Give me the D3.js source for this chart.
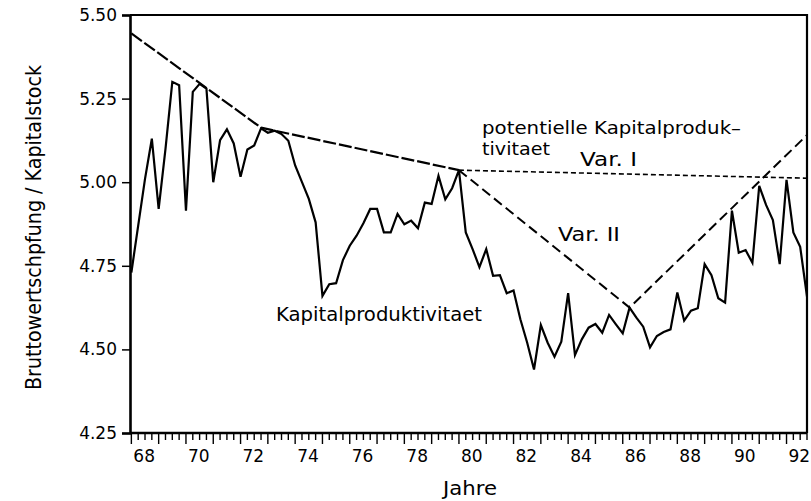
<!DOCTYPE html>
<html>
<head>
<script src="https://d3js.org/d3.v7.min.js"></script>
<style>
  body { margin: 0; background: #fff; }
  text { font-family: "DejaVu Sans", Arial, sans-serif; fill: #000; }
</style>
</head>
<body>
<svg id="chart" width="811" height="501"></svg>
<script>
// quarterly values from 1968 Q1
var startYear = 68;
var kapProd = [4.73, 4.87, 5.01, 5.13, 4.92, 5.10, 5.30, 5.29, 4.915, 5.27,
  5.294, 5.28, 5.00, 5.126, 5.158, 5.116, 5.016, 5.098, 5.11, 5.161,
  5.148, 5.154, 5.144, 5.124, 5.05, 5.00, 4.95, 4.88, 4.66, 4.695,
  4.698, 4.767, 4.81, 4.84, 4.877, 4.92, 4.92, 4.85, 4.85, 4.905,
  4.874, 4.885, 4.862, 4.939, 4.935, 5.019, 4.949, 4.982, 5.036, 4.85,
  4.80, 4.746, 4.80, 4.72, 4.722, 4.668, 4.676, 4.59, 4.52, 4.44,
  4.573, 4.52, 4.478, 4.523, 4.668, 4.483, 4.53, 4.565, 4.576, 4.55,
  4.603, 4.575, 4.548, 4.625, 4.595, 4.568, 4.506, 4.54, 4.552, 4.56,
  4.67, 4.586, 4.616, 4.623, 4.755, 4.722, 4.653, 4.64, 4.915, 4.789,
  4.797, 4.759, 4.989, 4.932, 4.887, 4.755, 5.007, 4.85, 4.807, 4.658];

// potential capital productivity (trend lines)
var trendYears = [68, 72.75, 80];
var trendValues = [5.445, 5.163, 5.036];
var var1Years = [80, 92.75];
var var1Values = [5.036, 5.012];
var var2Years = [80, 86.25, 92.75];
var var2Values = [5.036, 4.625, 5.141];

var yTicks = [4.25, 4.50, 4.75, 5.00, 5.25, 5.50];
var xLabels = ["68", "70", "72", "74", "76", "78", "80", "82", "84", "86", "88", "90", "92"];

var svg = d3.select("#chart");
var pLeft = 130, pRight = 807, pTop = 15, pBottom = 433;

var x = d3.scaleLinear().domain([67.95, 92.75]).range([pLeft, pRight]);
var y = d3.scaleLinear().domain([4.25, 5.50]).range([pBottom, pTop]);

// frame
svg.append("path")
  .attr("d", "M" + pLeft + "," + pTop + "H" + pRight + "V" + pBottom)
  .attr("fill", "none").attr("stroke", "#000").attr("stroke-width", 2.2);

// y axis
var yAxis = d3.axisLeft(y).tickValues(yTicks).tickSize(8).tickPadding(5)
  .tickFormat(d3.format(".2f"));
var gy = svg.append("g").attr("transform", "translate(" + pLeft + ",0)").call(yAxis);
gy.select(".domain").attr("stroke-width", 2.6);
gy.selectAll(".tick line").attr("stroke-width", 1.5);
gy.selectAll("text").attr("font-size", 17).style("font-family", "DejaVu Sans");

// x axis: quarterly minor ticks, yearly major ticks
var quarters = d3.range(68, 92.76, 0.25);
var gx = svg.append("g").attr("transform", "translate(0," + pBottom + ")");
gx.append("line").attr("x1", pLeft).attr("x2", pRight).attr("y1", 0).attr("y2", 0)
  .attr("stroke", "#000").attr("stroke-width", 2.6);
gx.selectAll("line.tk").data(quarters).enter().append("line")
  .attr("class", "tk")
  .attr("x1", function(d) { return x(d); })
  .attr("x2", function(d) { return x(d); })
  .attr("y1", 0)
  .attr("y2", function(d) { return Math.abs(d - Math.round(d)) < 1e-6 ? 11 : 7; })
  .attr("stroke", "#000").attr("stroke-width", 1.4);
gx.selectAll("text").data(xLabels).enter().append("text")
  .attr("x", function(d) { return x(+d) + 2; })
  .attr("y", 29)
  .attr("font-size", 17)
  .text(function(d) { return d; });

// lines
var kapYears = kapProd.map(function(v, i) { return startYear + i / 4; });
var line = d3.line()
  .x(function(d) { return x(d[0]); })
  .y(function(d) { return y(d[1]); });

svg.append("path")
  .datum(d3.zip(kapYears, kapProd))
  .attr("d", line)
  .attr("fill", "none").attr("stroke", "#000").attr("stroke-width", 2.2)
  .attr("stroke-linejoin", "miter");

svg.append("path")
  .datum(d3.zip(trendYears, trendValues))
  .attr("d", line)
  .attr("fill", "none").attr("stroke", "#000").attr("stroke-width", 2.2)
  .attr("stroke-dasharray", "13,3");

svg.append("path")
  .datum(d3.zip(var1Years, var1Values))
  .attr("d", line)
  .attr("fill", "none").attr("stroke", "#000").attr("stroke-width", 1.6)
  .attr("stroke-dasharray", "5,3");

svg.append("path")
  .datum(d3.zip(var2Years, var2Values))
  .attr("d", line)
  .attr("fill", "none").attr("stroke", "#000").attr("stroke-width", 2)
  .attr("stroke-dasharray", "10,5");

// annotations
function label(txt, px, py, len, size) {
  svg.append("text").attr("x", px).attr("y", py)
    .attr("font-size", size)
    .attr("textLength", len).attr("lengthAdjust", "spacingAndGlyphs")
    .text(txt);
}
label("potentielle Kapitalproduk\u2013", 482, 134, 259, 18);
label("tivitaet", 482, 155, 68, 18);
label("Var. I", 580, 166, 57, 19);
label("Var. II", 558, 241, 62, 19);
label("Kapitalproduktivitaet", 276, 321, 206, 20);

// axis titles
svg.append("text")
  .attr("x", 443).attr("y", 495)
  .attr("font-size", 20)
  .attr("textLength", 54).attr("lengthAdjust", "spacingAndGlyphs")
  .text("Jahre");
svg.append("text")
  .attr("transform", "translate(41,390) rotate(-90)")
  .attr("font-size", 21)
  .attr("textLength", 325).attr("lengthAdjust", "spacingAndGlyphs")
  .text("Bruttowertschpfung  /  Kapitalstock");
</script>
</body>
</html>
